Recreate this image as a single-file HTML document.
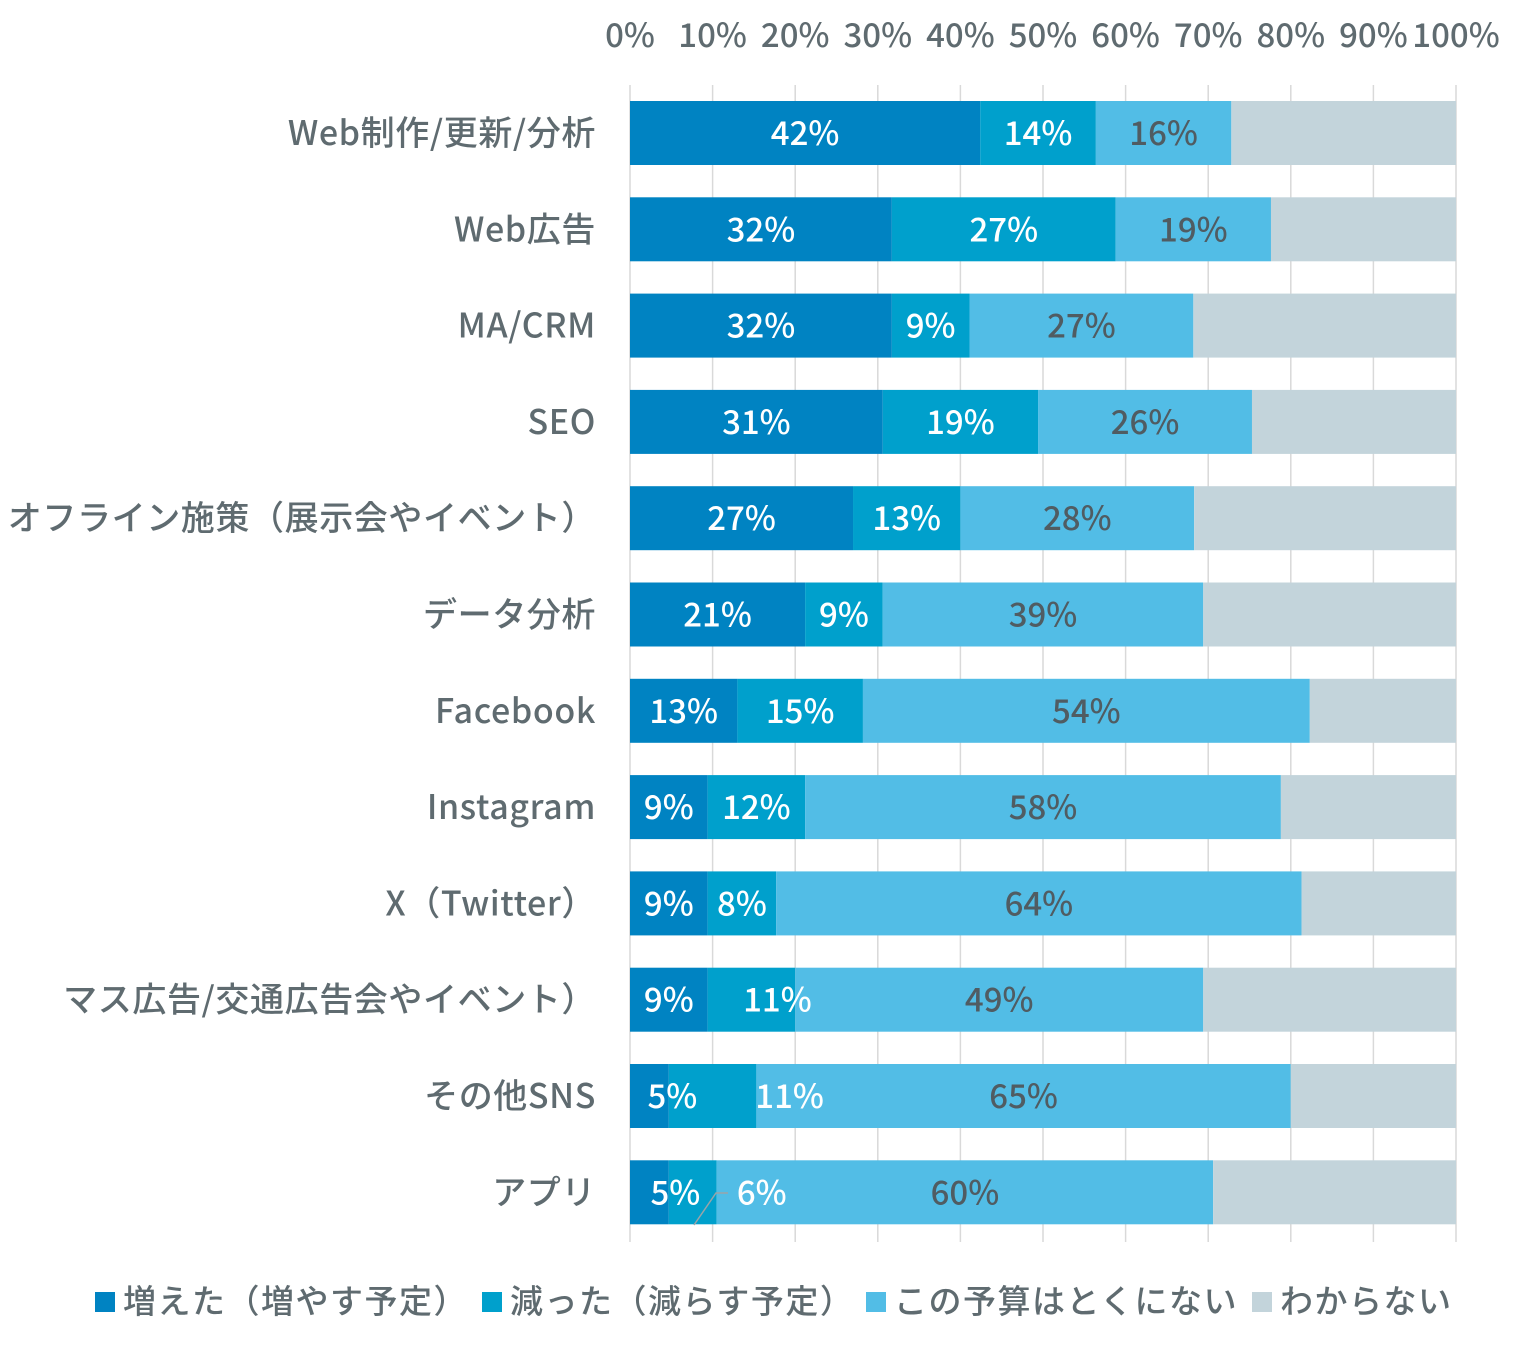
<!DOCTYPE html>
<html><head><meta charset="utf-8"><style>
body{margin:0;background:#fff;}
svg text{font-family:"Noto Sans CJK JP","Liberation Sans",sans-serif;font-weight:500;}
</style></head><body>
<svg id="chart" width="1531" height="1350" viewBox="0 0 1531 1350" xmlns="http://www.w3.org/2000/svg"></svg>
<script>
const categories=["Web制作/更新/分析","Web広告","MA/CRM","SEO","オフライン施策（展示会やイベント）","データ分析","Facebook","Instagram","X（Twitter）","マス広告/交通広告会やイベント）","その他SNS","アプリ"];
const increased=[42.4,31.7,31.7,30.6,27.0,21.2,13.0,9.4,9.4,9.4,4.7,4.7];
const decreased=[14.0,27.1,9.4,18.8,13.0,9.4,15.2,11.8,8.3,10.6,10.6,5.8];
const noBudget=[16.4,18.8,27.1,25.9,28.3,38.8,54.1,57.6,63.6,49.4,64.7,60.1];
const unknown=categories.map((c,i)=>100-increased[i]-decreased[i]-noBudget[i]);
const tickValues=[0,10,20,30,40,50,60,70,80,90,100];
const seriesNames=["増えた（増やす予定）","減った（減らす予定）","この予算はとくにない","わからない"];
const colors=["#0083c2","#00a0cc","#52bde6","#c3d4db"];
const labelColors=["#fff","#fff","#505c62",null];
const x0=630,x1=1456,top0=101,step=96.3,barH=64;
const xs=v=>x0+(x1-x0)*v/100;
const yc=i=>top0+i*step;
const svg=document.getElementById('chart');
const NS="http://www.w3.org/2000/svg";
function mk(t,a){const e=document.createElementNS(NS,t);for(const k in a)e.setAttribute(k,a[k]);svg.appendChild(e);return e;}
tickValues.forEach(t=>{
 const l=mk('line',{x1:xs(t),x2:xs(t),y1:85,y2:1242,stroke:'#d9d9d9','stroke-width':1.5});
 
 
 const tx=mk('text',{x:xs(t),y:47,'text-anchor':'middle','font-size':33,fill:'#5f6b70'});
 tx.textContent=t+'%';
 
 
});
const series=[increased,decreased,noBudget,unknown];
const dx=[[0,0,0],[0,0,0],[0,0,0],[0,0,0],[0,0,0],[0,0,0],[0,0,0],[0,0,0],[0,0,0],[0,26,0],[23,77,0],[26,69,0]];
const labels=[];
categories.forEach((c,i)=>{
 const y=yc(i);
 const lt=mk('text',{x:596,y:y+44,'text-anchor':'end','font-size':34,'letter-spacing':0.6,fill:'#5f6b70'});
 lt.textContent=c;
 
 
 let acc=0;
 series.forEach((s,k)=>{
  const v=s[i];
  const r=mk('rect',{x:xs(acc),y:y,width:xs(acc+v)-xs(acc),height:barH,fill:colors[k]});
  
  
  if(labelColors[k]) labels.push({x:(xs(acc)+xs(acc+v))/2+dx[i][k],y:y+44,c:labelColors[k],t:Math.round(v)+'%'});
  acc+=v;
 });
});
const ll=mk('polyline',{points:'694,1225 716,1193 728,1193',fill:'none',stroke:'#9aa4a8','stroke-width':1.5});


labels.forEach(L=>{
 const t=mk('text',{x:L.x,y:L.y,'text-anchor':'middle','font-size':33,fill:L.c});
 t.textContent=L.t;
 
 
});
const legX=[95,482,866,1252];
seriesNames.forEach((n,k)=>{
 const r=mk('rect',{x:legX[k],y:1292,width:20,height:20,fill:colors[k]});
 
 
 const t=mk('text',{x:legX[k]+28,y:1313,'font-size':33,'letter-spacing':1.5,fill:'#5f6b70'});
 t.textContent=n;
 
 
});
</script>
</body></html>
